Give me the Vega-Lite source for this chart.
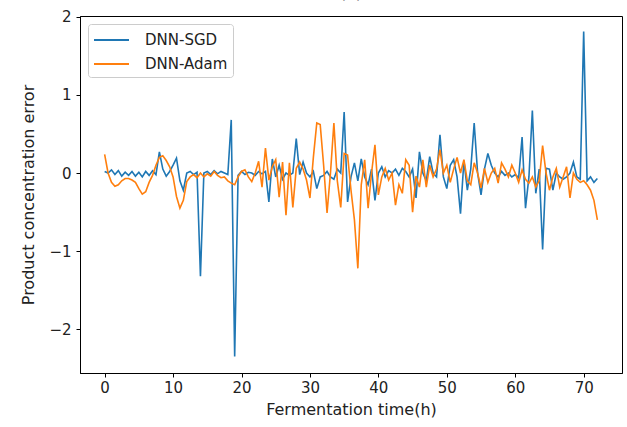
{
  "$schema": "https://vega.github.io/schema/vega-lite/v6.json",
  "width": 542,
  "height": 357,
  "autosize": "none",
  "padding": {"left": 80, "top": 16, "right": 5, "bottom": 54},
  "background": "white",
  "title": {"text": "(a)", "fontSize": 16, "font": "DejaVu Sans", "fontWeight": "normal", "offset": 9, "color": "#222"},
  "config": {
    "view": {"stroke": "black", "strokeWidth": 1},
    "axis": {"grid": false, "domainColor": "black", "tickColor": "black", "tickSize": 4, "labelFont": "DejaVu Sans", "titleFont": "DejaVu Sans", "labelFontSize": 15, "titleFontSize": 16, "titleFontWeight": "normal", "labelColor": "#222", "titleColor": "#222"}
  },
  "data": {"values": [
    {"t":0,"sgd":0.02,"adam":0.24},{"t":0.5,"sgd":0.0,"adam":0.0},{"t":1,"sgd":0.04,"adam":-0.12},{"t":1.5,"sgd":-0.02,"adam":-0.17},
    {"t":2,"sgd":0.03,"adam":-0.15},{"t":2.5,"sgd":-0.04,"adam":-0.1},{"t":3,"sgd":0.01,"adam":-0.07},{"t":3.5,"sgd":-0.03,"adam":-0.07},
    {"t":4,"sgd":0.02,"adam":-0.09},{"t":4.5,"sgd":-0.04,"adam":-0.12},{"t":5,"sgd":0.01,"adam":-0.2},{"t":5.5,"sgd":-0.05,"adam":-0.27},
    {"t":6,"sgd":0.02,"adam":-0.24},{"t":6.5,"sgd":-0.03,"adam":-0.12},{"t":7,"sgd":0.03,"adam":-0.03},{"t":7.5,"sgd":-0.02,"adam":0.1},
    {"t":8,"sgd":0.27,"adam":0.2},{"t":8.5,"sgd":0.05,"adam":0.22},{"t":9,"sgd":-0.04,"adam":0.16},{"t":9.5,"sgd":0.02,"adam":0.08},
    {"t":10,"sgd":0.1,"adam":-0.05},{"t":10.5,"sgd":0.19,"adam":-0.3},{"t":11,"sgd":-0.1,"adam":-0.45},{"t":11.5,"sgd":-0.22,"adam":-0.35},
    {"t":12,"sgd":0.0,"adam":-0.11},{"t":12.5,"sgd":0.02,"adam":-0.05},{"t":13,"sgd":-0.02,"adam":-0.02},{"t":13.5,"sgd":0.01,"adam":-0.06},
    {"t":14,"sgd":-1.32,"adam":0.0},{"t":14.5,"sgd":0.0,"adam":-0.05},{"t":15,"sgd":0.02,"adam":-0.01},{"t":15.5,"sgd":-0.02,"adam":-0.04},
    {"t":16,"sgd":0.03,"adam":0.02},{"t":16.5,"sgd":-0.01,"adam":-0.03},{"t":17,"sgd":0.02,"adam":-0.06},{"t":17.5,"sgd":0.0,"adam":-0.05},
    {"t":18,"sgd":-0.02,"adam":-0.1},{"t":18.5,"sgd":0.68,"adam":-0.13},{"t":19,"sgd":-2.35,"adam":-0.15},{"t":19.5,"sgd":-0.03,"adam":-0.05},
    {"t":20,"sgd":0.02,"adam":0.02},{"t":20.5,"sgd":-0.02,"adam":0.04},{"t":21,"sgd":0.01,"adam":-0.05},{"t":21.5,"sgd":0.0,"adam":-0.11},
    {"t":22,"sgd":-0.03,"adam":0.0},{"t":22.5,"sgd":0.02,"adam":0.15},{"t":23,"sgd":-0.01,"adam":-0.18},{"t":23.5,"sgd":0.02,"adam":0.32},
    {"t":24,"sgd":-0.37,"adam":-0.09},{"t":24.5,"sgd":0.18,"adam":0.08},{"t":25,"sgd":-0.05,"adam":0.17},{"t":25.5,"sgd":0.1,"adam":-0.31},
    {"t":26,"sgd":-0.08,"adam":0.14},{"t":26.5,"sgd":0.0,"adam":-0.54},{"t":27,"sgd":-0.03,"adam":0.13},{"t":27.5,"sgd":0.0,"adam":-0.44},
    {"t":28,"sgd":0.44,"adam":0.06},{"t":28.5,"sgd":-0.02,"adam":0.14},{"t":29,"sgd":0.14,"adam":0.05},{"t":29.5,"sgd":0.0,"adam":-0.09},
    {"t":30,"sgd":-0.05,"adam":-0.32},{"t":30.5,"sgd":0.02,"adam":0.2},{"t":31,"sgd":-0.2,"adam":0.64},{"t":31.5,"sgd":-0.05,"adam":0.62},
    {"t":32,"sgd":-0.03,"adam":0.1},{"t":32.5,"sgd":0.02,"adam":-0.51},{"t":33,"sgd":-0.05,"adam":0.0},{"t":33.5,"sgd":-0.08,"adam":0.64},
    {"t":34,"sgd":0.05,"adam":-0.1},{"t":34.5,"sgd":0.0,"adam":-0.44},{"t":35,"sgd":0.78,"adam":0.25},{"t":35.5,"sgd":-0.37,"adam":0.23},
    {"t":36,"sgd":-0.05,"adam":-0.22},{"t":36.5,"sgd":0.13,"adam":-0.6},{"t":37,"sgd":-0.1,"adam":-1.22},{"t":37.5,"sgd":0.18,"adam":-0.15},
    {"t":38,"sgd":-0.05,"adam":0.17},{"t":38.5,"sgd":-0.15,"adam":-0.45},{"t":39,"sgd":0.05,"adam":0.0},{"t":39.5,"sgd":-0.35,"adam":0.36},
    {"t":40,"sgd":0.0,"adam":-0.28},{"t":40.5,"sgd":0.08,"adam":-0.05},{"t":41,"sgd":-0.05,"adam":0.06},{"t":41.5,"sgd":0.03,"adam":-0.09},
    {"t":42,"sgd":0.0,"adam":0.0},{"t":42.5,"sgd":0.05,"adam":-0.41},{"t":43,"sgd":-0.03,"adam":-0.15},{"t":43.5,"sgd":0.06,"adam":-0.26},
    {"t":44,"sgd":0.02,"adam":0.17},{"t":44.5,"sgd":-0.05,"adam":0.1},{"t":45,"sgd":0.05,"adam":-0.5},{"t":45.5,"sgd":-0.32,"adam":-0.04},
    {"t":46,"sgd":0.27,"adam":-0.18},{"t":46.5,"sgd":0.0,"adam":0.17},{"t":47,"sgd":-0.1,"adam":-0.18},{"t":47.5,"sgd":0.21,"adam":0.1},
    {"t":48,"sgd":0.0,"adam":-0.05},{"t":48.5,"sgd":-0.05,"adam":0.05},{"t":49,"sgd":0.49,"adam":0.3},{"t":49.5,"sgd":-0.05,"adam":0.0},
    {"t":50,"sgd":-0.2,"adam":0.1},{"t":50.5,"sgd":0.1,"adam":-0.12},{"t":51,"sgd":0.17,"adam":0.05},{"t":51.5,"sgd":-0.05,"adam":0.2},
    {"t":52,"sgd":-0.52,"adam":0.0},{"t":52.5,"sgd":0.16,"adam":0.17},{"t":53,"sgd":-0.22,"adam":-0.1},{"t":53.5,"sgd":0.05,"adam":-0.15},
    {"t":54,"sgd":0.64,"adam":0.13},{"t":54.5,"sgd":0.0,"adam":0.0},{"t":55,"sgd":-0.28,"adam":-0.19},{"t":55.5,"sgd":0.05,"adam":0.06},
    {"t":56,"sgd":0.25,"adam":-0.12},{"t":56.5,"sgd":0.1,"adam":0.0},{"t":57,"sgd":0.0,"adam":0.06},{"t":57.5,"sgd":-0.05,"adam":-0.13},
    {"t":58,"sgd":0.02,"adam":0.13},{"t":58.5,"sgd":-0.03,"adam":0.05},{"t":59,"sgd":0.0,"adam":-0.05},{"t":59.5,"sgd":-0.05,"adam":0.1},
    {"t":60,"sgd":-0.02,"adam":0.0},{"t":60.5,"sgd":-0.06,"adam":-0.12},{"t":61,"sgd":0.46,"adam":0.04},{"t":61.5,"sgd":-0.45,"adam":-0.08},
    {"t":62,"sgd":-0.05,"adam":-0.13},{"t":62.5,"sgd":0.8,"adam":-0.05},{"t":63,"sgd":-0.26,"adam":-0.18},{"t":63.5,"sgd":0.05,"adam":-0.1},
    {"t":64,"sgd":-0.98,"adam":0.35},{"t":64.5,"sgd":0.06,"adam":0.0},{"t":65,"sgd":0.05,"adam":-0.22},{"t":65.5,"sgd":-0.22,"adam":-0.05},
    {"t":66,"sgd":0.0,"adam":0.06},{"t":66.5,"sgd":-0.05,"adam":-0.18},{"t":67,"sgd":-0.08,"adam":-0.05},{"t":67.5,"sgd":-0.05,"adam":0.08},
    {"t":68,"sgd":0.0,"adam":-0.32},{"t":68.5,"sgd":0.14,"adam":0.0},{"t":69,"sgd":-0.05,"adam":-0.08},{"t":69.5,"sgd":-0.08,"adam":-0.12},
    {"t":70,"sgd":1.81,"adam":-0.1},{"t":70.5,"sgd":-0.1,"adam":-0.15},{"t":71,"sgd":-0.05,"adam":-0.22},{"t":71.5,"sgd":-0.12,"adam":-0.35},
    {"t":72,"sgd":-0.07,"adam":-0.6}
  ]},
  "transform": [{"fold": ["sgd", "adam"], "as": ["series", "v"]}],
  "mark": {"type": "line", "strokeWidth": 1.6, "interpolate": "linear"},
  "encoding": {
    "x": {"field": "t", "type": "quantitative", "scale": {"domain": [-3.6, 75.6], "nice": false, "zero": false},
      "axis": {"values": [0, 10, 20, 30, 40, 50, 60, 70], "title": "Fermentation time(h)", "titlePadding": 6, "labelPadding": 3}},
    "y": {"field": "v", "type": "quantitative", "scale": {"domain": [-2.56, 2.01], "nice": false, "zero": false},
      "axis": {"values": [-2, -1, 0, 1, 2], "title": "Product concentration error", "titlePadding": 12, "labelPadding": 5}},
    "color": {"field": "series", "type": "nominal",
      "scale": {"domain": ["sgd", "adam"], "range": ["#1f77b4", "#ff7f0e"]},
      "legend": {"title": null, "orient": "top-left", "offset": 8, "labelExpr": "datum.value == 'sgd' ? 'DNN-SGD' : 'DNN-Adam'",
        "symbolType": "M-1,0H2.5", "symbolSize": 400, "symbolStrokeWidth": 2, "symbolFillColor": "transparent", "rowPadding": 5,
        "labelFontSize": 15, "labelFont": "DejaVu Sans", "labelColor": "#222", "labelOffset": 30,
        "strokeColor": "#cccccc", "fillColor": "white", "cornerRadius": 3, "padding": 5}},
    "order": {"field": "t", "type": "quantitative"}
  }
}
